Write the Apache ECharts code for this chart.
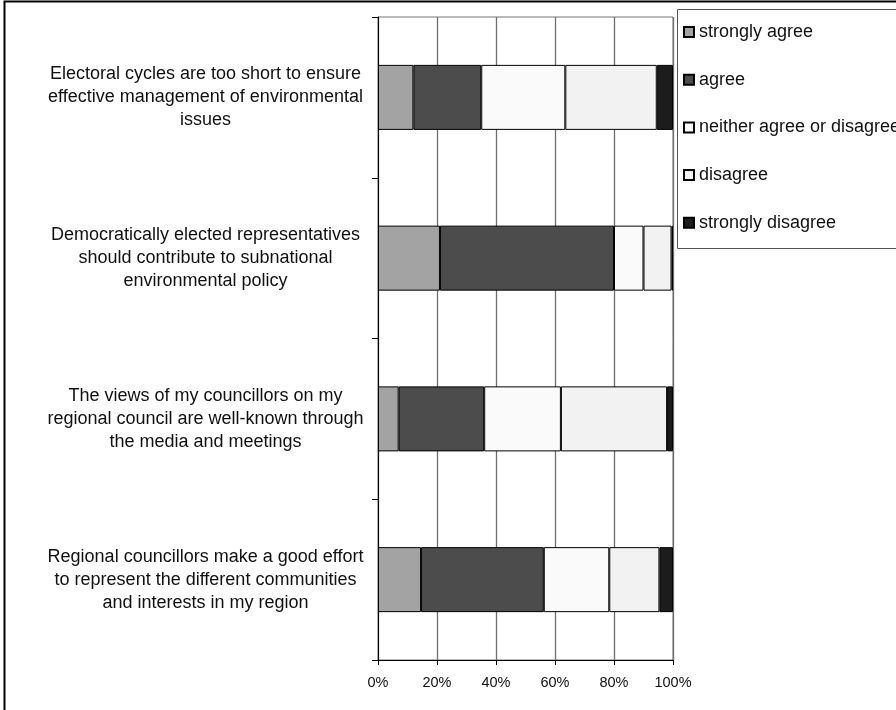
<!DOCTYPE html>
<html>
<head>
<meta charset="utf-8">
<script src="https://cdn.jsdelivr.net/npm/echarts@6/dist/echarts.min.js"></script>
<style>html,body{margin:0;padding:0;background:#fff;}#c{width:896px;height:710px;}</style>
</head>
<body>
<div id="c"></div>
<script>
var categories = [
  "Electoral cycles are too short to ensure\neffective management of environmental\nissues",
  "Democratically elected representatives\nshould contribute to subnational\nenvironmental policy",
  "The views of my councillors on my\nregional council are well-known through\nthe media and meetings",
  "Regional councillors make a good effort\nto represent the different communities\nand interests in my region"
];
var seriesNames = ["strongly agree", "agree", "neither agree or disagree", "disagree", "strongly disagree"];
var stronglyAgree = [12, 21, 7, 14.6];
var agree = [23, 59, 29, 41.6];
var neither = [28.5, 10, 26, 22.2];
var disagree = [31, 9.5, 36, 17];
var stronglyDisagree = [5.5, 0.5, 2, 4.6];
var xTicks = [0, 20, 40, 60, 80, 100];

var colors = ["#a3a3a3", "#4c4c4c", "#fafafa", "#f2f2f2", "#1c1c1c"];
var values = [stronglyAgree, agree, neither, disagree, stronglyDisagree];

var chart = echarts.init(document.getElementById('c'), null, {renderer: 'canvas'});
var font = "'Liberation Sans', Arial, sans-serif";
var option = {
  animation: false,
  backgroundColor: '#fff',
  textStyle: {fontFamily: font},
  grid: {left: 378, top: 17, width: 295, height: 643, show: true, borderColor: '#777', borderWidth: 1, backgroundColor: 'transparent'},
  legend: {
    orient: 'vertical', left: 683, top: 22, padding: 0,
    itemWidth: 10, itemHeight: 10, itemGap: 27.7, icon: 'rect',
    textStyle: {fontSize: 18, lineHeight: 20, color: '#111', fontFamily: font},
    data: seriesNames
  },
  xAxis: {
    type: 'value', min: xTicks[0], max: xTicks[xTicks.length - 1], interval: 20,
    axisLine: {show: true, lineStyle: {color: '#000', width: 1}},
    axisTick: {show: true, length: 5, lineStyle: {color: '#000'}},
    axisLabel: {formatter: '{value}%', fontSize: 14.5, color: '#111', margin: 15, fontFamily: font},
    splitLine: {show: true, lineStyle: {color: '#6e6e6e', width: 1.3}}
  },
  yAxis: {
    type: 'category', data: categories, inverse: true,
    axisLine: {show: true, lineStyle: {color: '#000', width: 1}},
    axisTick: {show: true, length: 6, interval: 0, lineStyle: {color: '#000'}},
    axisLabel: {align: 'center', margin: 172.5, fontSize: 18, lineHeight: 23, color: '#111', fontFamily: font, interval: 0},
    splitLine: {show: false}
  },
  graphic: [
    {type: 'rect', shape: {x: 4.5, y: 1.5, width: 2000, height: 2000}, style: {fill: 'none', stroke: '#000', lineWidth: 2}, silent: true, z: 100},
    {type: 'rect', shape: {x: 677.5, y: 9.5, width: 400, height: 239}, style: {fill: '#fff', stroke: '#555', lineWidth: 1}, silent: true, z: -1}
  ],
  series: seriesNames.map(function (n, i) {
    return {
      name: n, type: 'bar', stack: 'total', barWidth: 65,
      data: values[i],
      itemStyle: {color: colors[i], borderColor: '#000', borderWidth: 1}
    };
  })
};
chart.setOption(option);
</script>
</body>
</html>
